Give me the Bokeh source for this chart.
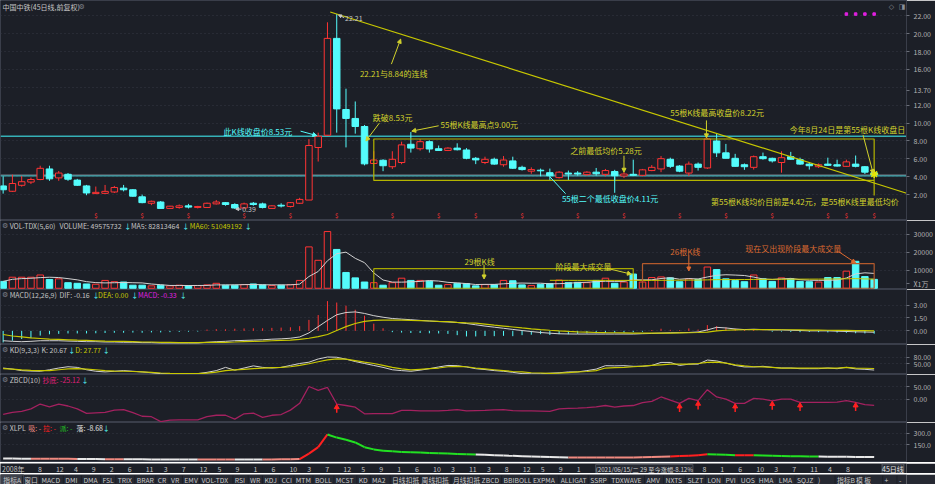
from bokeh.plotting import figure
from bokeh.models import (Range1d, FixedTicker, PrintfTickFormatter, Label, Arrow,
                          NormalHead, Span, ColumnDataSource)
from bokeh.layouts import column
from bokeh.embed import file_html
from bokeh.resources import INLINE
from bokeh.core.properties import value

# ------------------------------------------------------------------ data
opens = [2.97, 2.37, 3.04, 3.40, 3.69, 4.87, 3.87, 4.27, 3.62, 2.97,
         2.11, 2.14, 2.29, 2.72, 2.54, 1.75, 1.03, 1.17, 0.45, 0.56,
         0.74, 0.56, 0.56, 0.96, 1.10, 0.89, 0.50, 1.03, 0.96, 0.45,
         0.81, 0.67, 1.03, 1.39, 7.27, 8.64, 19.48, 11.52, 10.52, 9.62,
         5.48, 5.84, 5.12, 5.59, 7.63, 7.13, 7.92, 7.13, 6.94, 7.20,
         6.99, 6.06, 5.59, 5.95, 5.34, 5.77, 5.05, 4.62, 4.73, 4.45,
         3.90, 4.41, 4.41, 4.23, 4.51, 4.27, 4.58, 4.08, 4.27, 4.16,
         4.69, 4.87, 5.95, 5.19, 4.41, 5.41, 4.98, 8.00, 6.67, 6.06,
         5.34, 5.05, 6.24, 6.06, 5.59, 6.24, 5.91, 5.41, 5.12, 5.41,
         5.34, 5.16, 5.41, 5.12, 4.45]
highs = [4.05, 4.23, 4.08, 3.90, 5.23, 5.23, 4.64, 4.41, 3.76, 3.08,
         2.90, 3.08, 2.97, 3.08, 2.61, 2.00, 1.32, 1.28, 0.74, 0.89,
         0.96, 0.74, 1.10, 1.39, 1.17, 1.03, 1.10, 1.17, 1.10, 0.81,
         1.03, 1.17, 1.64, 8.21, 8.93, 21.28, 22.21, 13.85, 12.42, 9.79,
         6.85, 5.95, 6.85, 7.92, 9.00, 8.21, 8.06, 7.49, 7.30, 7.74,
         7.20, 6.20, 6.24, 6.13, 6.31, 6.24, 5.23, 5.05, 4.91, 4.91,
         4.62, 4.69, 4.62, 4.62, 4.98, 4.87, 4.77, 4.51, 5.91, 4.87,
         5.30, 6.31, 6.13, 5.30, 5.70, 5.59, 8.35, 8.84, 7.67, 6.56,
         5.48, 6.37, 6.70, 6.13, 6.85, 6.78, 6.13, 5.59, 5.48, 6.13,
         5.91, 5.91, 6.37, 5.20, 4.77]
lows = [2.11, 2.30, 2.89, 3.18, 3.61, 3.54, 3.54, 3.54, 2.97, 1.93,
        2.07, 2.07, 2.18, 2.36, 1.75, 1.03, 0.82, 0.42, 0.42, 0.42,
        0.45, 0.45, 0.50, 0.89, 0.75, 0.39, 0.45, 0.75, 0.45, 0.41,
        0.56, 0.56, 0.96, 1.39, 5.70, 8.64, 8.93, 7.28, 8.82, 5.27,
        5.40, 4.62, 4.87, 5.40, 6.70, 6.92, 6.70, 6.94, 6.87, 6.94,
        5.95, 5.41, 5.41, 5.34, 5.12, 4.87, 4.69, 4.33, 4.05, 3.60,
        3.80, 3.60, 4.12, 4.12, 4.12, 4.05, 3.60, 3.85, 4.12, 4.05,
        4.62, 4.51, 4.98, 4.51, 4.08, 4.69, 4.87, 6.20, 6.06, 5.12,
        4.77, 4.80, 5.91, 5.59, 4.45, 5.91, 5.34, 4.80, 4.98, 5.20,
        5.12, 5.12, 5.05, 4.30, 4.05]
closes = [2.54, 3.24, 3.44, 3.69, 4.94, 3.76, 4.41, 3.72, 3.04, 2.18,
          2.25, 2.36, 2.79, 2.54, 1.82, 1.10, 1.25, 0.45, 0.70, 0.74,
          0.60, 0.67, 1.03, 1.17, 0.89, 0.50, 0.96, 0.89, 0.56, 0.74,
          0.72, 1.10, 1.46, 7.49, 8.53, 19.48, 11.59, 10.52, 9.62, 5.44,
          5.87, 5.23, 5.95, 7.56, 7.20, 7.92, 7.10, 6.94, 7.20, 7.02,
          6.06, 5.88, 5.95, 5.41, 5.87, 4.95, 4.80, 4.80, 4.66, 4.11,
          4.51, 4.30, 4.30, 4.51, 4.33, 4.69, 4.11, 4.30, 4.16, 4.77,
          5.05, 6.02, 5.16, 4.62, 5.41, 5.05, 8.22, 6.67, 6.06, 5.16,
          5.12, 6.24, 6.02, 5.77, 6.13, 5.95, 5.41, 5.23, 5.34, 5.27,
          5.19, 5.66, 5.16, 4.51, 4.20]
volumes = [3830, 6150, 6150, 6150, 7400, 4900, 5260, 3120, 2760, 2400,
           2230, 4370, 3650, 3480, 1700, 1700, 1340, 1700, 1340, 1700,
           1500, 1500, 1870, 2760, 1700, 1700, 2050, 2400, 1870, 1500,
           1700, 2050, 4370, 23080, 15600, 31640, 21660, 8820, 5790, 3480,
           3120, 1700, 3120, 5610, 4370, 4370, 4010, 1700, 2050, 2760,
           2600, 1340, 2050, 2050, 4370, 4190, 1870, 1500, 2230, 2580,
           4550, 3120, 3300, 3120, 4370, 5610, 2760, 3480, 7930, 3480,
           5970, 6330, 5790, 3650, 5260, 4900, 11850, 10430, 5260, 4370,
           3650, 7400, 5260, 3830, 5790, 5260, 3830, 3650, 3480, 5970,
           5970, 9540, 15060, 6510, 4958]
vol_ma5 = [3830, 4990, 5380, 5570, 5940, 6150, 5970, 5370, 4690, 3690,
           3150, 2980, 3080, 3230, 3090, 2980, 2370, 1980, 1560, 1560,
           1520, 1550, 1580, 1870, 1870, 1910, 2020, 2120, 1940, 1900,
           1900, 1900, 2300, 6540, 9360, 15350, 19270, 20160, 16700, 14280,
           8570, 4580, 3440, 3410, 3580, 3830, 4300, 4010, 3300, 2980,
           2620, 2090, 2160, 2160, 2480, 2800, 2910, 2800, 2830, 2470,
           2550, 2800, 3160, 3330, 3690, 3900, 3830, 3870, 4830, 4650,
           4720, 5440, 5900, 5040, 5400, 5190, 6290, 7220, 7540, 7360,
           7110, 6220, 5190, 4900, 5190, 5510, 4790, 4470, 4400, 4440,
           4580, 5720, 8000, 8610, 8281]
vol_ma60_start = 59
vol_ma60 = [4430, 4420, 4410, 4400, 4390, 4390, 4400, 4380, 4380, 4420,
            4410, 4390, 4430, 4470, 4490, 4530, 4560, 4680, 4790, 4830,
            4850, 4870, 4940, 4970, 4990, 5030, 5060, 5080, 5090, 5100,
            5150, 5190, 5270, 5380, 5220, 5105]
macd_dif = [-1.15, -1.22, -1.26, -1.22, -1.15, -1.15, -1.15, -1.19, -1.22, -1.26,
            -1.26, -1.30, -1.30, -1.33, -1.33, -1.37, -1.37, -1.41, -1.41, -1.41,
            -1.41, -1.41, -1.33, -1.26, -1.22, -1.15, -1.11, -1.08, -1.04, -0.97,
            -0.93, -0.86, -0.71, -0.24, 0.49, 1.22, 1.88, 2.14, 2.21, 2.03,
            1.77, 1.59, 1.44, 1.37, 1.30, 1.22, 1.15, 1.08, 1.04, 0.97,
            0.86, 0.71, 0.56, 0.43, 0.30, 0.17, 0.04, -0.08, -0.19, -0.27,
            -0.34, -0.36, -0.37, -0.37, -0.37, -0.37, -0.37, -0.37, -0.37, -0.33,
            -0.30, -0.26, -0.22, -0.21, -0.19, -0.13, 0.11, 0.41, 0.34, 0.22,
            0.15, 0.19, 0.15, 0.11, 0.11, 0.07, 0.04, 0.00, 0.00, 0.00,
            -0.04, -0.07, -0.11, -0.13, -0.16]
macd_dea = [-0.42, -0.60, -0.71, -0.82, -0.89, -0.96, -1.00, -1.04, -1.08, -1.11,
            -1.15, -1.19, -1.22, -1.22, -1.26, -1.30, -1.30, -1.33, -1.33, -1.37,
            -1.37, -1.37, -1.35, -1.33, -1.33, -1.30, -1.26, -1.22, -1.19, -1.15,
            -1.11, -1.08, -1.00, -0.86, -0.68, -0.42, 0.05, 0.49, 0.86, 1.11,
            1.22, 1.26, 1.26, 1.26, 1.22, 1.19, 1.15, 1.11, 1.08, 1.00,
            0.93, 0.90, 0.79, 0.67, 0.56, 0.45, 0.34, 0.24, 0.15, 0.07,
            0.00, -0.06, -0.11, -0.15, -0.19, -0.21, -0.22, -0.24, -0.26, -0.26,
            -0.26, -0.26, -0.26, -0.23, -0.22, -0.19, -0.15, 0.00, 0.07, 0.11,
            0.13, 0.15, 0.15, 0.15, 0.13, 0.13, 0.11, 0.09, 0.08, 0.07,
            0.06, 0.05, 0.03, 0.02, 0.00]
macd_hist = [-1.35, -1.15, -0.95, -0.85, -0.55, -0.40, -0.35, -0.30, -0.30, -0.30,
             -0.28, -0.25, -0.22, -0.22, -0.20, -0.22, -0.18, -0.18, -0.15, -0.12,
             -0.10, -0.08, 0.15, 0.20, 0.18, 0.25, 0.28, 0.30, 0.30, 0.35,
             0.38, 0.42, 0.55, 1.28, 1.84, 3.47, 3.30, 2.94, 2.46, 1.77,
             0.84, 0.30, -0.15, -0.20, -0.25, -0.25, -0.28, -0.30, -0.35, -0.50,
             -0.65, -0.65, -0.60, -0.62, -0.58, -0.62, -0.50, -0.45, -0.38, -0.48,
             -0.38, -0.40, -0.35, -0.30, -0.28, -0.25, -0.22, -0.20, -0.15, -0.10,
             0.10, 0.25, 0.12, 0.08, 0.28, 0.15, 0.67, 0.56, 0.40, 0.26,
             0.10, 0.18, 0.05, -0.10, -0.08, -0.12, -0.15, -0.12, -0.15, -0.18,
             -0.20, -0.22, -0.28, -0.30, -0.33]
kd_k = [30, 25, 18, 16, 15, 22, 30, 36, 33, 22,
        15, 12, 15, 18, 15, 12, 8, 4, 4, 4,
        4, 4, 10, 18, 33, 20, 30, 40, 33, 30,
        33, 42, 51, 57, 72, 81, 80, 71, 60, 51,
        42, 33, 22, 18, 15, 20, 27, 35, 42, 41,
        35, 27, 23, 18, 15, 10, 4, 3, 3, 6,
        8, 12, 12, 18, 25, 41, 40, 41, 38, 38,
        42, 56, 56, 42, 48, 48, 67, 63, 53, 42,
        35, 35, 38, 33, 30, 30, 27, 27, 27, 30,
        27, 33, 26, 24, 20.67]
kd_d = [27, 25, 21, 19, 18, 18, 22, 26, 27, 25,
        22, 18, 16, 15, 14, 12, 10, 7, 5, 4,
        4, 4, 6, 11, 18, 21, 24, 27, 30, 32,
        33, 36, 42, 50, 59, 68, 72, 71, 64, 57,
        51, 42, 33, 26, 21, 24, 27, 30, 36, 38,
        36, 30, 26, 22, 18, 14, 12, 8, 7, 5,
        6, 9, 12, 14, 18, 30, 32, 33, 36, 39,
        42, 45, 48, 48, 48, 51, 56, 57, 53, 45,
        40, 36, 35, 33, 30, 30, 30, 30, 30, 30,
        30, 33, 30, 29, 27.77]
zbcd = [-62, -54, -50, -40, -20, -32, -20, -28, -40, -58,
        -56, -54, -45, -43, -55, -70, -72, -92, -86, -85,
        -85, -85, -72, -66, -66, -82, -60, -57, -75, -66,
        -63, -45, -17, 52, 36, 48, -20, -26, -33, -60,
        -59, -59, -59, -46, -46, -48, -48, -48, -46, -43,
        -48, -47, -46, -44, -43, -47, -48, -48, -49, -50,
        -40, -38, -37, -35, -32, -26, -33, -28, -26, -14,
        -9, 9, -4, -17, 3, -6, 39, 9, 0, -17,
        -17, 3, 0, -7, 0, 0, -13, -13, -13, -13,
        -12, -6, -13, -22, -25.12]
zbcd_signal_idx = [36, 73, 75, 79, 83, 86, 92]
xlpl = [-25, -27, -29, -30, -30, -30, -31, -31, -32, -33,
        -34, -35, -35, -36, -37, -38, -39, -40, -40, -41,
        -41, -41, -41, -41, -41, -41, -41, -41, -41, -40,
        -38, -36, -34, 37, 121, 287, 246, 217, 183, 121,
        92, 75, 67, 58, 54, 50, 46, 42, 37, 33,
        29, 25, 21, 17, 12, 8, 4, 0, -4, -8,
        -10, -12, -13, -14, -15, -15, -14, -13, -12, -10,
        -8, -5, -2, 5, 10, 15, 30, 27, 22, 17,
        17, 17, 12, 8, 5, 3, 2, 0, -2, -3,
        -4, -5, -6, -7, -8.68]
# w = 落, s = 吸, r = 拉, g = 派
xlpl_state = list("wwww" "sssss" "www" "ss" "wwwwwwww" "ssss" "www" "ssss" "rrr"
                  "gggggggggggggggg" "wwwwwwwwww" "sssssssssss" "rrrr" "ggg" "rr"
                  "ggggggg" "wwwwww")
dollar_idx = [10, 15, 20, 26, 31, 36, 42, 47, 51, 56, 62, 67, 73, 78, 83, 89, 91, 94]
signal_dot_idx = [91, 92, 93, 94]
xtick_idx = [0] + list(range(4, 65, 2)) + list(range(78, 95, 2))
xtick_lab = ["2008年", "8", "12", "4", "9", "2", "6", "11", "3", "7", "12", "5", "9", "1",
             "6", "10", "3", "7", "12", "5", "9", "1", "6", "10", "3", "11", "3", "8",
             "12", "5", "9", "1",
             "8", "1", "6", "10", "3", "7", "11", "4", "8"]
price_ticks = [2, 4, 6, 8, 10, 12, 14, 16, 18, 20, 22]
price_label_ticks = [2, 4, 6, 8, 10, 12, 13.7, 16, 18, 20, 22]
vol_ticks = [10000, 20000, 30000]
vol_label_ticks = [2500, 10000, 20000, 30000]
macd_ticks = [0, 1.5, 3.0]
kd_ticks = [50, 80]
zbcd_ticks = [0, 50]
xlpl_ticks = [150, 300]
tab_names = ["指标A", "窗口", "MACD", "DMI", "DMA", "FSL", "TRIX", "BRAR", "CR", "VR", "EMV",
             "VOL-TDX", "RSI", "WR", "KDJ", "CCI", "MTM", "BOLL", "MCST", "KD", "MA2",
             "日线扣抵", "周线扣抵", "月线扣抵", "ZBCD", "BBIBOLL", "EXPMA", "ALLIGAT", "SSRP",
             "TDXWAVE", "AMV", "NXTS", "SLZT", "LON", "PVI", "UOS", "HMA", "LMA", "SQJZ", ")",
             "指标B", "模 板", "+", "-"]
tab_x = [3, 25, 43, 68, 87, 107, 123, 143, 165, 179, 193, 211, 246, 262, 277, 295, 310,
         330, 352, 376, 390, 411, 442, 475, 505, 528, 559, 588, 619, 641, 678, 698, 721,
         742, 761, 777, 796, 817, 836, 858, 878, 898, 928, 943]

# ------------------------------------------------------------------ style
FONT = "Noto Sans CJK SC"
BG = "#1c1f27"
SEP = "#3a3e4a"
GRID = "#343845"
AXT = "#b4b4b4"
TXT = "#c4c4c4"
RED = "#ff3434"
CYAN = "#54fcfc"
YEL = "#c8c800"
ANN = "#d2d22c"
TEAL = "#35b0b6"
WHITE = "#d2d2d2"
ORANGE = "#dc6a30"
ORBOX = "#b45a2c"
MAG = "#e020e0"
ZBL = "#a3215f"
ZBT = "#e0207a"
XCOL = {"w": "#e8e8e8", "s": "#f08a80", "r": "#ff2020", "g": "#22e022"}

W = 935
AX = 29
FW = W - AX
SX = FW / 922.0
XR = Range1d(-0.286, 97.49)
XR_FULL = Range1d(-0.286, -0.286 + (97.49 + 0.286) * W / FW)
H_MAIN, H_VOL, H_MACD, H_KD, H_ZB, H_XL, H_XAX, H_TAB = 220, 69, 55, 30, 48, 40, 11, 11

N = len(closes)
IDX = list(range(N))


def mk(h, y0, y1, ticks, fmt, label_ticks=None):
    p = figure(width=W, height=h, x_range=XR, y_range=Range1d(y0, y1),
               output_backend="svg", toolbar_location=None,
               x_axis_location=None, y_axis_location="right",
               min_border_left=0, min_border_right=AX, min_border_top=0,
               min_border_bottom=0,
               background_fill_color=BG, border_fill_color=BG,
               outline_line_color=SEP, outline_line_width=1)
    ya = p.yaxis[0]
    ya.ticker = FixedTicker(ticks=label_ticks if label_ticks else ticks)
    ya.formatter = PrintfTickFormatter(format=fmt)
    ya.axis_line_color = SEP
    ya.major_tick_line_color = "#6a6e78"
    ya.major_tick_out = 3
    ya.major_tick_in = 0
    ya.minor_tick_line_color = None
    ya.major_label_standoff = 4
    ya.major_label_text_color = AXT
    ya.major_label_text_font = FONT
    ya.major_label_text_font_size = "7px"
    p.ygrid.ticker = FixedTicker(ticks=ticks)
    p.ygrid.grid_line_color = GRID
    p.ygrid.grid_line_dash = "1 3"
    p.xgrid.visible = False
    return p


def slab(p, xr, sy_from_top, fh, text, color, size="7px", font=FONT):
    p.add_layout(Label(x=xr * SX, y=fh - sy_from_top, x_units="screen", y_units="screen",
                       text=text, text_color=color, text_font=font, text_font_size=size,
                       text_baseline="middle", text_align="left"))


def note(p, x, y, text, color, size="8px", align="left"):
    p.add_layout(Label(x=x, y=y, text=text, text_color=color, text_font=FONT,
                       text_font_size=size, text_baseline="middle", text_align=align))


def arrow(p, x0, y0, x1, y1, color, head=4):
    end = NormalHead(size=head, line_color=color, fill_color=color) if head else None
    p.add_layout(Arrow(end=end, x_start=x0, y_start=y0, x_end=x1, y_end=y1,
                       line_color=color, line_width=1))


def header(p, fh, parts):
    slab(p, 1.5, 5.6, fh, "⚙", "#7c808a", font="DejaVu Sans")
    for text, x, col in parts:
        slab(p, x, 5.6, fh, text, col)


up = [c >= o for o, c in zip(opens, closes)]


def split(flag):
    ids = [i for i in IDX if up[i] == flag]
    return ColumnDataSource(dict(x=ids, o=[opens[i] for i in ids], c=[closes[i] for i in ids],
                                 h=[highs[i] for i in ids], l=[lows[i] for i in ids],
                                 v=[volumes[i] for i in ids]))


s_up, s_dn = split(True), split(False)

# ------------------------------------------------------------------ main price panel
pm = mk(H_MAIN, -0.90, 23.72, price_ticks, "%.2f", price_label_ticks)
pm.add_layout(Span(location=8.53, dimension="width", line_color=TEAL, line_width=1.5, level="underlay"))
pm.add_layout(Span(location=4.11, dimension="width", line_color=TEAL, line_width=1.5, level="underlay"))
pm.add_layout(Span(location=closes[-1], dimension="width", line_color="#6c707a", line_width=1, level="underlay"))

pm.segment(x0="x", y0="l", x1="x", y1="h", source=s_up, line_color=RED, line_width=1)
pm.vbar(x="x", width=0.7, top="c", bottom="o", source=s_up, fill_color=BG, line_color=RED, line_width=1)
pm.segment(x0="x", y0="l", x1="x", y1="h", source=s_dn, line_color=CYAN, line_width=1)
pm.vbar(x="x", width=0.7, top="o", bottom="c", source=s_dn, fill_color=CYAN, line_color=CYAN, line_width=1)

# box of the last 55 bars
b0 = 40
b1 = N - 1
box_top = max(closes[b0:])
box_bot = min(lows[b0:]) - 0.02
pm.quad(left=[b0], right=[b1], bottom=[box_bot], top=[box_top], fill_alpha=0, line_color="#b4b400", line_width=1.2)
pm.segment(x0=[b1], y0=[box_bot], x1=[b1], y1=[1.89], line_color="#b4b400", line_width=1.2)

# trend line through the 22.21 high and the 8.84 high
ia, ib = 36, 77
slope = (highs[ib] - highs[ia]) / (ib - ia)
tx = [35.3, 97.5]
pm.line(tx, [highs[ia] + slope * (t - ia) for t in tx], line_color=YEL, line_width=1.2)

pm.text(x=dollar_idx, y=[-0.3] * len(dollar_idx), text=["$"] * len(dollar_idx),
        text_color=RED, text_font=value(FONT), text_font_size="6px",
        text_align="center", text_baseline="middle")
pm.scatter(x=signal_dot_idx, y=[22.2] * len(signal_dot_idx), marker="square", size=2.5,
           color=MAG)
pm.scatter(x=[N - 1], y=[4.3], marker="asterisk", size=8, line_color="#e6e600", line_width=1.5)

# annotations
note(pm, 36.9, 21.75, "22.21", "#c8c8c8", size="7px")
arrow(pm, 36.8, 21.8, 36.2, 22.1, "#c8c8c8", head=3)
note(pm, 25.8, 0.36, "0.39", "#c8c8c8", size="7px")
arrow(pm, 25.7, 0.37, 25.1, 0.39, "#c8c8c8", head=3)
note(pm, 38.5, 15.55, "22.21与8.84的连线", ANN)
arrow(pm, 41.9, 16.6, 42.9, 19.4, ANN)
note(pm, 39.9, 10.6, "跌破8.53元", ANN)
arrow(pm, 40.6, 10.0, 39.15, 8.0, ANN)
note(pm, 47.2, 9.85, "55根K线最高点9.00元", ANN)
arrow(pm, 47.0, 9.7, 44.1, 9.1, ANN)
note(pm, 31.2, 9.1, "此K线收盘价8.53元", CYAN, align="right")
arrow(pm, 32.1, 9.1, 33.85, 8.6, CYAN)
note(pm, 72.0, 11.14, "55根K线最高收盘价8.22元", ANN)
arrow(pm, 75.9, 10.3, 75.9, 8.35, ANN)
note(pm, 61.2, 6.95, "之前最低均价5.28元", ANN)
arrow(pm, 67.0, 6.35, 67.0, 4.5, ANN)
note(pm, 60.3, 1.57, "55根二个最低收盘价4.11元", CYAN)
arrow(pm, 60.7, 2.1, 59.0, 4.0, CYAN, head=0)
arrow(pm, 66.0, 2.2, 66.0, 4.0, CYAN, head=0)
note(pm, 84.9, 9.3, "今年8月24日是第55根K线收盘日", ANN)
arrow(pm, 92.8, 8.66, 93.9, 4.35, ANN)
note(pm, 76.4, 1.25, "第55根K线均价目前是4.42元，是55根K线里最低均价", ANN)

slab(pm, 2, 6.8, H_MAIN, "中国中铁(45日线,前复权)", TXT)
slab(pm, 79.5, 6.8, H_MAIN, "⚙", "#7c808a", font="DejaVu Sans")
slab(pm, 904, 6.8, H_MAIN, "◇", "#8a8e98", font="DejaVu Sans")
slab(pm, 914, 6.8, H_MAIN, "◨", "#8a8e98", font="DejaVu Sans")

# ------------------------------------------------------------------ volume panel
pv = mk(H_VOL, -695, 37808, vol_ticks, "%d", vol_label_ticks)
pv.yaxis[0].major_label_overrides = {2500: "X1万"}
pv.vbar(x="x", width=0.7, top="v", bottom=0, source=s_up, fill_color=BG, line_color=RED, line_width=1)
pv.vbar(x="x", width=0.7, top="v", bottom=0, source=s_dn, fill_color=CYAN, line_color=CYAN, line_width=1)
pv.line(IDX, vol_ma5, line_color=WHITE, line_width=1)
pv.line(list(range(vol_ma60_start, vol_ma60_start + len(vol_ma60))), vol_ma60, line_color=YEL, line_width=1)
pv.quad(left=[40], right=[68], bottom=[0], top=[10900], fill_alpha=0, line_color="#a8a800", line_width=1.2)
pv.quad(left=[69], right=[94], bottom=[0], top=[13740], fill_alpha=0, line_color=ORBOX, line_width=1.2)
note(pv, 49.8, 15000, "29根K线", ANN)
arrow(pv, 51.9, 13100, 51.9, 5190, ANN)
note(pv, 59.6, 12140, "阶段最大成交量", ANN)
arrow(pv, 65.2, 11070, 67.8, 7860, ANN)
note(pv, 72.0, 20320, "26根K线", ORANGE)
arrow(pv, 74.0, 18560, 74.0, 9630, ORANGE)
note(pv, 80.1, 22140, "现在又出现阶段最大成交量", ORANGE)
arrow(pv, 90.2, 20320, 92.0, 14120, ORANGE)
header(pv, H_VOL, [("VOL-TDX(5,60)", 9.3, TXT), ("VOLUME: 49575732", 60, TXT),
                   ("↓", 126, CYAN), ("MA5: 82813464", 132.7, TXT), ("↓", 185, CYAN),
                   ("MA60: 51049192", 192.7, YEL), ("↓", 248.5, CYAN)])

# ------------------------------------------------------------------ MACD panel
pc = mk(H_MACD, -1.589, 4.822, macd_ticks, "%.2f")
hp = [i for i in IDX if macd_hist[i] >= 0]
hn = [i for i in IDX if macd_hist[i] < 0]
pc.segment(x0=hp, y0=[0] * len(hp), x1=hp, y1=[macd_hist[i] for i in hp], line_color=RED, line_width=1)
pc.segment(x0=hn, y0=[0] * len(hn), x1=hn, y1=[macd_hist[i] for i in hn], line_color=CYAN, line_width=1)
pc.line(IDX, macd_dif, line_color=WHITE, line_width=1)
pc.line(IDX, macd_dea, line_color=YEL, line_width=1.2)
header(pc, H_MACD, [("MACD(12,26,9)", 9.3, TXT), ("DIF: -0.16", 60, TXT), ("↓", 93.5, CYAN),
                    ("DEA: 0.00", 99.3, YEL), ("↓", 133, CYAN),
                    ("MACD: -0.33", 140, MAG), ("↓", 182.5, CYAN)])

# ------------------------------------------------------------------ KD panel
pk = mk(H_KD, 0, 139.1, kd_ticks, "%.2f")
pk.line(IDX, kd_k, line_color=WHITE, line_width=1)
pk.line(IDX, kd_d, line_color=YEL, line_width=1.2)
header(pk, H_KD, [("KD(9,3,3)", 9.3, TXT), ("K: 20.67", 41.7, TXT), ("↓", 69, CYAN),
                  ("D: 27.77", 76, YEL), ("↓", 104, CYAN)])

# ------------------------------------------------------------------ ZBCD panel
pz = mk(H_ZB, -95.7, 101.2, zbcd_ticks, "%.2f")
pz.line(IDX, zbcd, line_color=ZBL, line_width=1.3)
ay = [zbcd[i] for i in zbcd_signal_idx]
pz.segment(x0=zbcd_signal_idx, y0=[v - 14 for v in ay], x1=zbcd_signal_idx, y1=[v - 36 for v in ay],
           line_color="#ff2020", line_width=1.5)
pz.scatter(x=zbcd_signal_idx, y=[v - 13 for v in ay], marker="triangle", size=5,
           fill_color="#ff2020", line_color="#ff2020")
header(pz, H_ZB, [("ZBCD(10)", 9.3, TXT), ("抄底: -25.12", 42.7, ZBT), ("↓", 82.5, CYAN)])

# ------------------------------------------------------------------ XLPL panel
px = mk(H_XL, -78.75, 442.5, xlpl_ticks, "%.1f")
px.segment(x0=IDX[:-1], y0=xlpl[:-1], x1=IDX[1:], y1=xlpl[1:],
           line_color=[XCOL[s] for s in xlpl_state[1:]], line_width=2)
header(px, H_XL, [("XLPL", 9.3, TXT), ("吸: -", 28.3, XCOL["s"]), ("拉: -", 43.3, "#ff2020"),
                  ("派: -", 60, "#22c022"), ("落: -8.68", 77.3, "#e0e0e0"), ("↓", 104, CYAN)])

# ------------------------------------------------------------------ date row (x tick labels)
pa = figure(width=W, height=H_XAX, x_range=XR_FULL, y_range=Range1d(0, 1),
            output_backend="svg", toolbar_location=None, x_axis_location=None, y_axis_location=None,
            min_border_left=0, min_border_right=0, min_border_top=0, min_border_bottom=0,
            background_fill_color=BG, border_fill_color=BG, outline_line_color=None)
pa.xgrid.visible = False
pa.ygrid.visible = False
pa.text(x=xtick_idx, y=[0.5] * len(xtick_idx), text=xtick_lab, x_offset=-1,
        text_color=TXT, text_font=value(FONT), text_font_size="7px",
        text_baseline="middle", text_align="left")
pa.add_layout(Label(x=66.0, y=0.5, text="(2021/06/15/二 29 至今涨幅-8.12%", text_color="#d0d0d0",
                    text_font=FONT, text_font_size="6.2px", text_baseline="middle",
                    background_fill_color="#262932", border_line_color="#4a4d56", padding=0))
pa.add_layout(Label(x=97.9, y=0.5, text="45日线", text_color="#e0e0e0", text_font=FONT,
                    text_font_size="7px", text_baseline="middle", background_fill_color="#2a2d36",
                    border_line_color="#5a5d66", padding=0))

# ------------------------------------------------------------------ tab bar
pt = figure(width=W, height=H_TAB, x_range=Range1d(0, 951), y_range=Range1d(0, 1),
            output_backend="svg", toolbar_location=None, x_axis_location=None, y_axis_location=None,
            min_border_left=0, min_border_right=0, min_border_top=0, min_border_bottom=0,
            background_fill_color="#262932", border_fill_color="#262932", outline_line_color=None)
pt.xgrid.visible = False
pt.ygrid.visible = False
pt.quad(left=[0], right=[24], bottom=[0], top=[1], color="#3e414b")
pt.segment(x0=[x - 2 for x in tab_x[1:]], y0=[0.1] * (len(tab_x) - 1),
           x1=[x - 2 for x in tab_x[1:]], y1=[0.9] * (len(tab_x) - 1), line_color="#1c1f27", line_width=1)
pt.text(x=tab_x, y=[0.5] * len(tab_x), text=tab_names, text_color="#c8c8c8",
        text_font=value(FONT), text_font_size="6.8px", text_baseline="middle", text_align="left")

layout = column(pm, pv, pc, pk, pz, px, pa, pt, spacing=0)
open("out.html", "w").write(file_html(layout, INLINE))
